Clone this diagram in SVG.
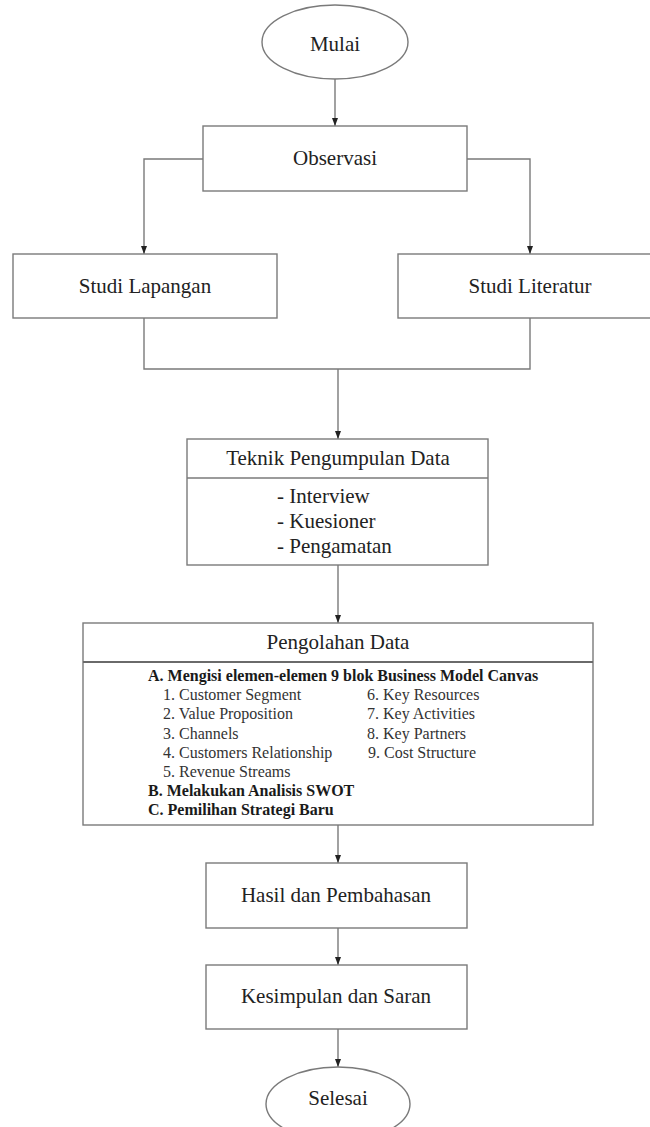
<svg xmlns="http://www.w3.org/2000/svg" width="650" height="1127" viewBox="0 0 650 1127">
<style>
.box{fill:#fff;stroke:#7a7a7a;stroke-width:1.4}
.con{fill:none;stroke:#7a7a7a;stroke-width:1.4}
.t{font-family:"Liberation Serif","Times New Roman",serif;font-size:21px;fill:#222;text-anchor:middle}
.l{font-family:"Liberation Serif","Times New Roman",serif;font-size:21px;fill:#222}
.s{font-family:"Liberation Serif","Times New Roman",serif;font-size:16px;fill:#333}
.b{font-family:"Liberation Serif","Times New Roman",serif;font-size:16px;fill:#1a1a1a;font-weight:bold}
</style>
<defs>
<marker id="arr" markerUnits="userSpaceOnUse" markerWidth="8" markerHeight="6" refX="8" refY="3" orient="auto">
<path d="M0,0 L8,3 L0,6 z" fill="#222"/>
</marker>
</defs>
<g id="connectors">
<path class="con" d="M335,79 V126" marker-end="url(#arr)"/>
<path class="con" d="M203,159 H144 V254" marker-end="url(#arr)"/>
<path class="con" d="M467,159 H530 V254" marker-end="url(#arr)"/>
<path class="con" d="M144,318 V369 H530 V318"/>
<path class="con" d="M338,369 V439" marker-end="url(#arr)"/>
<path class="con" d="M338,565 V623" marker-end="url(#arr)"/>
<path class="con" d="M338,825 V863" marker-end="url(#arr)"/>
<path class="con" d="M338,928 V965" marker-end="url(#arr)"/>
<path class="con" d="M338,1029 V1067" marker-end="url(#arr)"/>
</g>
<g id="mulai">
<ellipse class="box" cx="335" cy="42" rx="73" ry="37"/>
<text class="t" x="335" y="51">Mulai</text>
</g>
<g id="observasi">
<rect class="box" x="203" y="126" width="264" height="65"/>
<text class="t" x="335" y="165">Observasi</text>
</g>
<g id="studi-lapangan">
<rect class="box" x="13" y="254" width="264" height="64"/>
<text class="t" x="145" y="293">Studi Lapangan</text>
</g>
<g id="studi-literatur">
<rect class="box" x="398" y="254" width="264" height="64"/>
<text class="t" x="530" y="293">Studi Literatur</text>
</g>
<g id="teknik">
<rect class="box" x="187" y="439" width="301" height="126"/>
<line class="con" x1="187" y1="478" x2="488" y2="478"/>
<text class="t" x="338" y="465">Teknik Pengumpulan Data</text>
<text class="l" x="277" y="503">- Interview</text>
<text class="l" x="277" y="528">- Kuesioner</text>
<text class="l" x="277" y="553">- Pengamatan</text>
</g>
<g id="pengolahan">
<rect class="box" x="83" y="623" width="510" height="202"/>
<line class="con" x1="83" y1="662" x2="593" y2="662" style="stroke-width:2.2;stroke:#6a6a6a"/>
<text class="t" x="338" y="649">Pengolahan Data</text>
<text class="b" x="148" y="681">A. Mengisi elemen-elemen 9 blok Business Model Canvas</text>
<text class="s" x="163" y="700">1. Customer Segment</text>
<text class="s" x="163" y="719">2. Value Proposition</text>
<text class="s" x="163" y="739">3. Channels</text>
<text class="s" x="163" y="758">4. Customers Relationship</text>
<text class="s" x="163" y="777">5. Revenue Streams</text>
<text class="s" x="367" y="700">6. Key Resources</text>
<text class="s" x="367" y="719">7. Key Activities</text>
<text class="s" x="367" y="739">8. Key Partners</text>
<text class="s" x="368" y="758">9. Cost Structure</text>
<text class="b" x="148" y="796">B. Melakukan Analisis SWOT</text>
<text class="b" x="148" y="815">C. Pemilihan Strategi Baru</text>
</g>
<g id="hasil">
<rect class="box" x="206" y="863" width="261" height="65"/>
<text class="t" x="336" y="902">Hasil dan Pembahasan</text>
</g>
<g id="kesimpulan">
<rect class="box" x="206" y="965" width="261" height="64"/>
<text class="t" x="336" y="1003">Kesimpulan dan Saran</text>
</g>
<g id="selesai">
<ellipse class="box" cx="338" cy="1104" rx="72" ry="37"/>
<text class="t" x="338" y="1105">Selesai</text>
</g>
</svg>
